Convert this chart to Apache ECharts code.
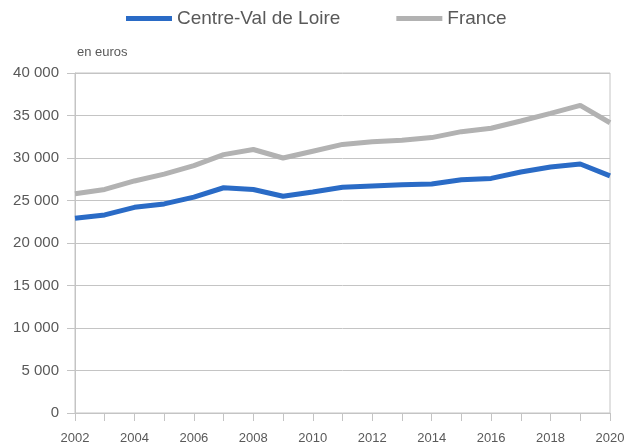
<!DOCTYPE html>
<html lang="fr">
<head>
    <meta charset="UTF-8">
    <title>Centre-Val de Loire / France</title>
    <script src="https://cdn.jsdelivr.net/npm/echarts@6/dist/echarts.min.js"></script>
    <style>
        body { margin: 0; background: #fff; }
        #chart { width: 628px; height: 448px; }
    </style>
</head>
<body>
    <div id="chart"></div>
    <script>
        const years = ['2002', '2003', '2004', '2005', '2006', '2007', '2008', '2009', '2010', '2011',
            '2012', '2013', '2014', '2015', '2016', '2017', '2018', '2019', '2020'];
        const centreVal = [22900, 23300, 24200, 24600, 25400, 26500, 26300, 25500, 26000, 26550,
            26700, 26850, 26950, 27450, 27600, 28350, 28950, 29300, 27900];
        const france = [25800, 26300, 27300, 28100, 29100, 30400, 31000, 30000, 30800, 31600,
            31900, 32100, 32400, 33100, 33500, 34350, 35250, 36200, 34150];

        const chart = echarts.init(document.getElementById('chart'));
        const textColor = '#595959';
        const lineGray = '#c4c4c4';

        chart.setOption({
            animation: false,
            textStyle: { fontFamily: 'Liberation Sans' },
            legend: {
                top: 4,
                left: 121,
                itemWidth: 46,
                itemHeight: 5,
                itemGap: 56,
                icon: 'rect',
                textStyle: { color: textColor, fontSize: 19, fontFamily: 'Liberation Sans' },
                data: ['Centre-Val de Loire', 'France']
            },
            grid: {
                left: 75, right: 18, top: 73, bottom: 35,
                show: true, borderColor: lineGray, borderWidth: 1
            },
            xAxis: {
                type: 'category',
                data: years,
                boundaryGap: false,
                axisLine: { lineStyle: { color: lineGray, width: 1 } },
                axisTick: { show: true, interval: 0, length: 8, lineStyle: { color: lineGray } },
                axisLabel: { interval: 1, color: textColor, fontSize: 13, margin: 19 },
                splitLine: { show: false }
            },
            yAxis: {
                type: 'value',
                min: 0, max: 40000, interval: 5000,
                name: 'en euros',
                nameLocation: 'end',
                nameGap: 14,
                nameTextStyle: { color: textColor, fontSize: 13, align: 'left', padding: [0, 0, 0, 2] },
                axisLine: { show: true, lineStyle: { color: lineGray, width: 1 } },
                axisTick: { show: true, length: 8, lineStyle: { color: lineGray } },
                axisLabel: {
                    color: textColor, fontSize: 15, margin: 16,
                    formatter: v => v === 0 ? '0' : String(v).replace(/(\d)(?=(\d{3})+$)/g, '$1 ')
                },
                splitLine: { lineStyle: { color: lineGray, width: 1 } }
            },
            series: [
                {
                    name: 'Centre-Val de Loire',
                    type: 'line',
                    data: centreVal,
                    symbol: 'none',
                    lineStyle: { color: '#2a6bc6', width: 5 },
                    itemStyle: { color: '#2a6bc6' },
                    z: 3
                },
                {
                    name: 'France',
                    type: 'line',
                    data: france,
                    symbol: 'none',
                    lineStyle: { color: '#b2b2b2', width: 5 },
                    itemStyle: { color: '#b2b2b2' },
                    z: 2
                }
            ]
        });
        window.addEventListener('resize', () => chart.resize());
    </script>
</body>
</html>
